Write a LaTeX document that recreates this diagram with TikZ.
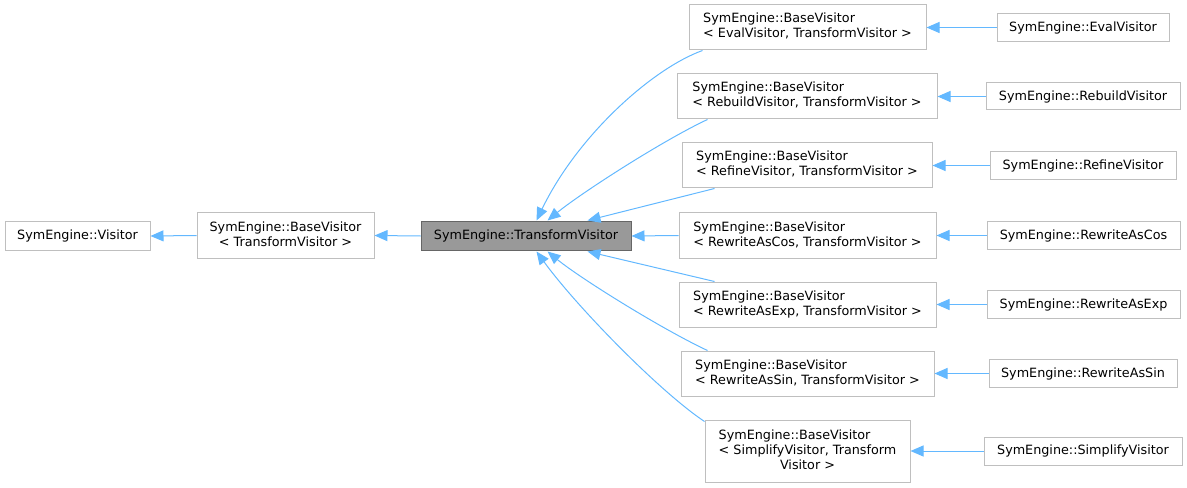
\documentclass[tikz,border=0pt]{standalone}
\usepackage{fontspec}
\setmainfont{DejaVu Sans}
\usetikzlibrary{arrows.meta,calc}
\definecolor{edgeblue}{HTML}{63B8FF}
\definecolor{boxborder}{HTML}{BFBFBF}
\definecolor{tvfill}{HTML}{999999}
\definecolor{tvborder}{HTML}{666666}
\newcommand{\lbltwo}[2]{\begin{tabular}{@{}l@{}}#1\\\multicolumn{1}{@{}c@{}}{#2}\end{tabular}}
\newcommand{\lblthree}[3]{\begin{tabular}{@{}l@{}}#1\\#2\\\multicolumn{1}{@{}c@{}}{#3}\end{tabular}}
\begin{document}
\begin{tikzpicture}[x=0.75pt,y=-0.75pt,
  box/.style={draw=boxborder, fill=white, line width=0.75pt, inner sep=0pt,
    font=\fontsize{9.57}{11.25}\selectfont},
  wh/.style 2 args={minimum width=#1*0.75pt, minimum height=#2*0.75pt},
  hlbox/.style={box, draw=tvborder, fill=tvfill},
  edge/.style={draw=edgeblue, line width=0.75pt, -{Triangle[length=9.75pt,width=8.25pt]}}]
\useasboundingbox (0,0) rectangle (1187,488);

% nodes
\node[box, wh={145}{28}] (vis) at (77.5,236) {SymEngine::Visitor};
\node[box, wh={177}{45}] (bvt) at (285.5,235.5) {\lbltwo{SymEngine::BaseVisitor}{< TransformVisitor >}};
\node[hlbox, wh={210}{28}] (tv) at (526,236) {SymEngine::TransformVisitor};

\node[box, wh={237}{45}] (ebv) at (807.5,27.5) {\lbltwo{SymEngine::BaseVisitor}{< EvalVisitor, TransformVisitor >}};
\node[box, wh={172}{28}] (ev) at (1083,27.5) {SymEngine::EvalVisitor};

\node[box, wh={260}{45}] (rbbv) at (807,96.5) {\lbltwo{SymEngine::BaseVisitor}{< RebuildVisitor, TransformVisitor >}};
\node[box, wh={194}{27}] (rbv) at (1083,96.5) {SymEngine::RebuildVisitor};

\node[box, wh={250}{45}] (rfbv) at (807,165.5) {\lbltwo{SymEngine::BaseVisitor}{< RefineVisitor, TransformVisitor >}};
\node[box, wh={186}{28}] (rfv) at (1083,165.5) {SymEngine::RefineVisitor};

\node[box, wh={257}{46}] (rcbv) at (807.5,235.5) {\lbltwo{SymEngine::BaseVisitor}{< RewriteAsCos, TransformVisitor >}};
\node[box, wh={193}{28}] (rcv) at (1083.5,235.5) {SymEngine::RewriteAsCos};

\node[box, wh={257}{45}] (rebv) at (807.5,304.5) {\lbltwo{SymEngine::BaseVisitor}{< RewriteAsExp, TransformVisitor >}};
\node[box, wh={193}{28}] (rev) at (1083.5,304.5) {SymEngine::RewriteAsExp};

\node[box, wh={253}{45}] (rsbv) at (807.5,373.5) {\lbltwo{SymEngine::BaseVisitor}{< RewriteAsSin, TransformVisitor >}};
\node[box, wh={188}{28}] (rsv) at (1083,373.5) {SymEngine::RewriteAsSin};

\node[box, wh={205}{62}] (sbv) at (807.5,451) {\lblthree{SymEngine::BaseVisitor}{< SimplifyVisitor, Transform}{Visitor >}};
\node[box, wh={198}{28}] (sv) at (1083,451) {SymEngine::SimplifyVisitor};

% straight edges
\draw[edge] (bvt.west) -- (vis.east);
\draw[edge] (tv.west) -- (bvt.east);
\draw[edge] (rcbv.west) -- (tv.east);
\draw[edge] (ev.west) -- (ebv.east);
\draw[edge] (rbv.west) -- (rbbv.east);
\draw[edge] (rfv.west) -- (rfbv.east);
\draw[edge] (rcv.west) -- (rcbv.east);
\draw[edge] (rev.west) -- (rebv.east);
\draw[edge] (rsv.west) -- (rsbv.east);
\draw[edge] (sv.west) -- (sbv.east);

% curved edges into TransformVisitor
\draw[edge] ($(ebv.south west)+(14,0)$) .. controls +(-50,18) and +(41,-85) .. ($(tv.north west)+(116,-1)$);
\draw[edge] ($(rbbv.south west)+(31,0)$) .. controls +(-45,21) and +(33,-27) .. ($(tv.north west)+(127,-1)$);
\draw[edge] ($(rfbv.south west)+(33,0)$) -- ($(tv.north west)+(167,-1)$);
\draw[edge] ($(rebv.north west)+(36,0)$) -- ($(tv.south west)+(167,1)$);
\draw[edge] ($(rsbv.north west)+(27,0)$) .. controls +(-45,-21) and +(33,27) .. ($(tv.south west)+(127,1)$);
\draw[edge] ($(sbv.north west)+(0,2)$) .. controls +(-45,-30) and +(40,55) .. ($(tv.south west)+(116,1)$);
\end{tikzpicture}
\end{document}
